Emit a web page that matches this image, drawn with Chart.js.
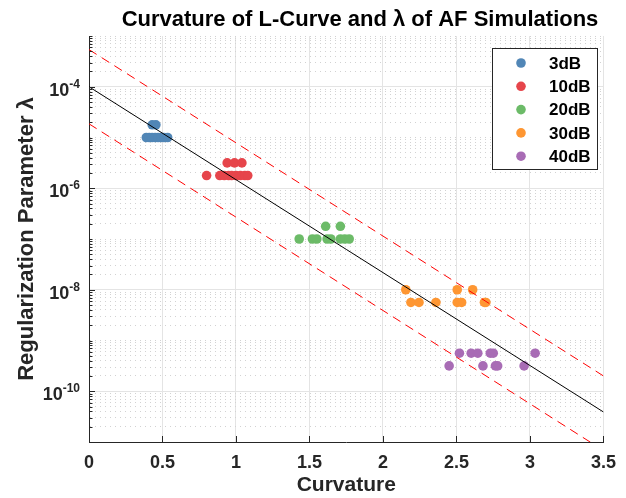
<!DOCTYPE html>
<html><head><meta charset="utf-8">
<script src="https://cdn.jsdelivr.net/npm/chart.js@4.4.1/dist/chart.umd.min.js"></script>
<style>html,body{margin:0;padding:0;background:#fff;overflow:hidden}</style>
</head><body>
<canvas id="c" width="626" height="498"></canvas>
<script>
// ---------------- data ----------------
const seriesNames = ['3dB', '10dB', '20dB', '30dB', '40dB'];

const curv3dB   = [0.43, 0.455, 0.39, 0.41, 0.43, 0.45, 0.47, 0.49, 0.51, 0.535];
const lambda3dB = [1.78e-5, 1.78e-5, 1e-5, 1e-5, 1e-5, 1e-5, 1e-5, 1e-5, 1e-5, 1e-5];

const curv10dB   = [0.94, 0.99, 1.04, 0.80, 0.89, 0.92, 0.95, 0.97, 1.00, 1.03, 1.06, 1.08];
const lambda10dB = [3.16e-6, 3.16e-6, 3.16e-6, 1.78e-6, 1.78e-6, 1.78e-6, 1.78e-6, 1.78e-6, 1.78e-6, 1.78e-6, 1.78e-6, 1.78e-6];

const curv20dB   = [1.61, 1.71, 1.43, 1.52, 1.55, 1.62, 1.645, 1.71, 1.74, 1.77];
const lambda20dB = [1.78e-7, 1.78e-7, 1e-7, 1e-7, 1e-7, 1e-7, 1e-7, 1e-7, 1e-7, 1e-7];

const curv30dB   = [2.155, 2.505, 2.61, 2.19, 2.245, 2.36, 2.505, 2.535, 2.69, 2.70];
const lambda30dB = [1e-8, 1e-8, 1e-8, 5.62e-9, 5.62e-9, 5.62e-9, 5.62e-9, 5.62e-9, 5.62e-9, 5.62e-9];

const curv40dB   = [2.52, 2.60, 2.645, 2.73, 2.75, 3.035, 2.45, 2.68, 2.765, 2.78, 2.96];
const lambda40dB = [5.62e-10, 5.62e-10, 5.62e-10, 5.62e-10, 5.62e-10, 5.62e-10, 3.16e-10, 3.16e-10, 3.16e-10, 3.16e-10, 3.16e-10];

// fitted line and its bounds
const fitCurv     = [0, 3.5];
const fitLambda   = [1e-4, 3.9e-11];
const upperLambda = [5.4e-4, 2.0e-10];
const lowerLambda = [1.86e-5, 6.8e-12];

// axis ticks
const xTickValues = [0, 0.5, 1, 1.5, 2, 2.5, 3, 3.5];
const xTickLabels = ['0', '0.5', '1', '1.5', '2', '2.5', '3', '3.5'];
const yMajorExponents = [-10, -8, -6, -4];
const yMin = 1e-11, yMax = 1e-3;

const titleText = 'Curvature of L-Curve and λ of AF Simulations';
const xTitle = 'Curvature';
const yTitle = 'Regularization Parameter λ';

// ---------------- styles ----------------
const seriesColors = ['#5186b6', '#e6454b', '#6cbb68', '#fe9632', '#a86cb5'];
const FONT = '"Liberation Sans", Arial, Helvetica, sans-serif';
const AX = '#262626';

const curvs = [curv3dB, curv10dB, curv20dB, curv30dB, curv40dB];
const lambdas = [lambda3dB, lambda10dB, lambda20dB, lambda30dB, lambda40dB];

function isMajorY(v) {
  const e = Math.log10(v), r = Math.round(e);
  return Math.abs(e - r) < 1e-6 && yMajorExponents.includes(r);
}
function pts(xs, ys) { return xs.map((x, i) => ({x: x, y: ys[i]})); }

const datasets = [
  {label: 'fit', data: pts(fitCurv, fitLambda), showLine: true, borderColor: '#000000', borderWidth: 1,
   pointRadius: 0, order: 0, isFit: true},
  {label: 'upper', data: pts(fitCurv, upperLambda), showLine: true, borderColor: '#ff0000', borderWidth: 1,
   borderDash: [9, 6], pointRadius: 0, order: 0, isFit: true},
  {label: 'lower', data: pts(fitCurv, lowerLambda), showLine: true, borderColor: '#ff0000', borderWidth: 1,
   borderDash: [9, 6], pointRadius: 0, order: 0, isFit: true}
].concat(seriesNames.map((n, i) => ({
  label: n, data: pts(curvs[i], lambdas[i]), backgroundColor: seriesColors[i], borderWidth: 0,
  pointRadius: 4.8, pointHoverRadius: 4.8, order: 1
})));

const decorPlugin = {
  id: 'decor',
  afterDraw(chart) {
    const ctx = chart.ctx, ys = chart.scales.y, xs = chart.scales.x, ca = chart.chartArea;
    ctx.save();
    // inward tick marks
    ctx.strokeStyle = AX; ctx.lineWidth = 1;
    ys.ticks.forEach(t => {
      const py = Math.round(ys.getPixelForValue(t.value)) + 0.5;
      const len = isMajorY(t.value) ? 6 : 3.5;
      ctx.beginPath(); ctx.moveTo(ca.left, py); ctx.lineTo(ca.left + len, py); ctx.stroke();
    });
    xs.ticks.forEach(t => {
      const px = Math.round(xs.getPixelForValue(t.value)) + 0.5;
      ctx.beginPath(); ctx.moveTo(px, ca.bottom); ctx.lineTo(px, ca.bottom - 6); ctx.stroke();
    });
    // y tick labels 10^n
    ctx.fillStyle = AX; ctx.textAlign = 'right'; ctx.textBaseline = 'alphabetic';
    yMajorExponents.forEach(e => {
      const py = ys.getPixelForValue(Math.pow(10, e));
      const exp = String(e);
      ctx.font = 'bold 12px ' + FONT;
      const ew = ctx.measureText(exp).width;
      ctx.fillText(exp, 80, py + 1);
      ctx.font = 'bold 18px ' + FONT;
      ctx.fillText('10', 80 - ew, py + 9);
    });
    // title
    ctx.fillStyle = '#000000'; ctx.textAlign = 'center';
    ctx.font = 'bold 22px ' + FONT;
    ctx.fillText(titleText, 360, 26);
    // legend
    const bx = 492.5, by = 48.5, bw = 105, bh = 121;
    ctx.fillStyle = '#ffffff'; ctx.fillRect(bx, by, bw, bh);
    ctx.strokeStyle = AX; ctx.lineWidth = 1; ctx.strokeRect(bx, by, bw, bh);
    const items = chart.data.datasets.filter(d => !d.isFit);
    ctx.textAlign = 'left'; ctx.textBaseline = 'middle';
    ctx.font = 'bold 17px ' + FONT;
    items.forEach((d, i) => {
      const cy = 63 + i * 23.3;
      ctx.fillStyle = d.backgroundColor;
      ctx.beginPath(); ctx.arc(521, cy, 4.8, 0, Math.PI * 2); ctx.fill();
      ctx.fillStyle = '#000000';
      ctx.fillText(d.label, 549, cy + 1);
    });
    ctx.restore();
  }
};

new Chart(document.getElementById('c'), {
  type: 'scatter',
  data: {datasets: datasets},
  options: {
    responsive: false, animation: false, devicePixelRatio: 1,
    layout: {padding: {top: 36, right: 18, left: 0, bottom: 0}},
    plugins: {legend: {display: false}, tooltip: {enabled: false}, title: {display: false}},
    scales: {
      x: {
        type: 'linear', min: 0, max: 3.5,
        afterBuildTicks: s => { s.ticks = xTickValues.map(v => ({value: v})); },
        ticks: {font: {family: FONT, size: 18, weight: 'bold'}, color: AX, padding: 10, maxRotation: 0, autoSkip: false,
                callback: (v) => { const i = xTickValues.indexOf(v); return i >= 0 ? xTickLabels[i] : String(v); }},
        grid: {color: '#e4e4e4', lineWidth: 1, drawTicks: false},
        border: {color: AX, width: 1},
        title: {display: true, text: xTitle, color: AX, font: {family: FONT, size: 21, weight: 'bold'}, padding: {top: 0, bottom: 0}},
        afterFit: s => { s.height = 56; }
      },
      y: {
        type: 'logarithmic', min: yMin, max: yMax,
        afterBuildTicks: s => {
          const t = [];
          for (let e = -11; e <= -3; e++) for (let k = 1; k <= 9; k++) {
            const v = k * Math.pow(10, e);
            if (v >= yMin * 0.999 && v <= yMax * 1.001) t.push({value: v});
          }
          s.ticks = t;
        },
        ticks: {display: false},
        grid: {color: c => (c.tick && !isMajorY(c.tick.value)) ? '#d2d2d2' : '#e4e4e4', lineWidth: 1, drawTicks: false},
        border: {color: AX, width: 1, dash: c => (c.tick && !isMajorY(c.tick.value)) ? [1, 4] : []},
        title: {display: true, text: yTitle, color: AX, font: {family: FONT, size: 22, weight: 'bold'}, padding: {top: 14, bottom: 0}},
        afterFit: s => { s.width = 89; }
      }
    }
  },
  plugins: [decorPlugin]
});
</script>
</body></html>
